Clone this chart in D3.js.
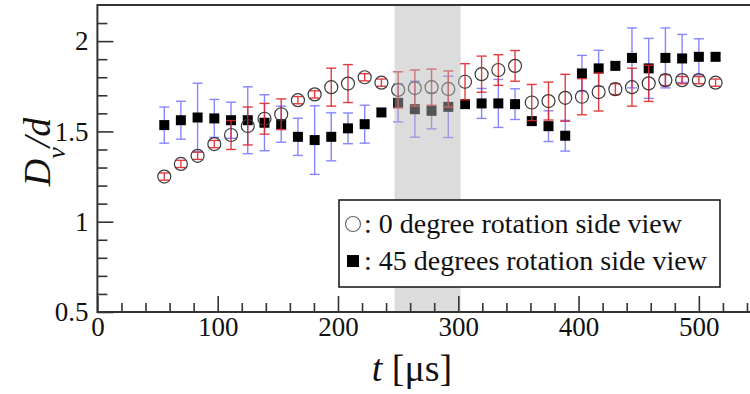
<!DOCTYPE html>
<html>
<head>
<meta charset="utf-8">
<script src="https://cdn.jsdelivr.net/npm/d3@7"></script>
<style>
  html, body { margin: 0; padding: 0; background: #fff; }
  svg text { font-family: "Liberation Serif", Tinos, "Times New Roman", Times, "DejaVu Serif", serif; }
</style>
</head>
<body>
<div id="chart"></div>
<script>
// time of each frame [us]
const tValues = [55.6, 69.4, 83.3, 97.2, 111.1, 125.0, 138.9, 152.8, 166.7, 180.6,
  194.4, 208.3, 222.2, 236.1, 250.0, 263.9, 277.8, 291.7, 305.6, 319.4,
  333.3, 347.2, 361.1, 375.0, 388.9, 402.8, 416.7, 430.6, 444.4, 458.3,
  472.2, 486.1, 500.0, 513.9];

// 0 degree rotation (open circles, red error bars)
const deg0Mean = [1.25, 1.32, 1.365, 1.43, 1.48, 1.53, 1.57, 1.595, 1.673, 1.705,
  1.745, 1.765, 1.80, 1.77, 1.73, 1.74, 1.745, 1.735, 1.775, 1.817,
  1.84, 1.863, 1.66, 1.668, 1.686, 1.692, 1.718, 1.734, 1.745, 1.766,
  1.784, 1.784, 1.784, 1.77];
const deg0Err = [0.02, 0.02, 0.02, 0.02, 0.08, 0.105, 0.085, 0.085, 0.02, 0.02,
  0.105, 0.105, 0.02, 0.02, 0.10, 0.10, 0.10, 0.10, 0.10, 0.10,
  0.085, 0.085, 0.10, 0.105, 0.13, 0.10, 0.105, 0.03, 0.105, 0.10,
  0.03, 0.02, 0.02, 0.02];

// 45 degrees rotation (filled squares, blue error bars)
const deg45Mean = [1.535, 1.562, 1.577, 1.572, 1.562, 1.562, 1.548, 1.54, 1.47, 1.452,
  1.47, 1.517, 1.54, 1.605, 1.658, 1.623, 1.614, 1.636, 1.651, 1.655,
  1.655, 1.651, 1.557, 1.529, 1.476, 1.821, 1.849, 1.863, 1.907, 1.849,
  1.907, 1.904, 1.913, 1.913];
const deg45Err = [0.10, 0.105, 0.19, 0.105, 0.10, 0.185, 0.155, 0.10, 0.103, 0.19,
  0.133, 0.085, 0.105, 0.02, 0.105, 0.155, 0.10, 0.17, 0.02, 0.083,
  0.133, 0.085, 0.02, 0.085, 0.085, 0.10, 0.10, 0.02, 0.166, 0.166,
  0.166, 0.133, 0.10, 0.02];

const xTicks = [0, 100, 200, 300, 400, 500];
const yTicks = [0.5, 1, 1.5, 2];
const yTickLabels = ["0.5", "1", "1.5", "2"];
const bandRange = [247, 302]; // shaded time window [us]
const legendLabels = [": 0 degree rotation side view", ": 45 degrees rotation side view"];

const W = 750, H = 394;
const FONT = '"Liberation Serif", Tinos, "Times New Roman", Times, "DejaVu Serif", serif';
const svg = d3.select("#chart").append("svg").attr("width", W).attr("height", H)
  .style("display", "block");

const x = d3.scaleLinear().domain([0, 550]).range([97.4, 759]);
const y = d3.scaleLinear().domain([0.5, 2.2]).range([312, 5]);

const pts0 = tValues.map((t, i) => ({ t, v: deg0Mean[i], e: deg0Err[i] }));
const pts45 = tValues.map((t, i) => ({ t, v: deg45Mean[i], e: deg45Err[i] }));

const cap = 5;
function errorBars(g, data, color, opacity) {
  const bars = g.selectAll("g").data(data).enter().append("g")
    .attr("stroke", color).attr("stroke-width", 1.4).attr("opacity", opacity);
  bars.append("line")
    .attr("x1", d => x(d.t)).attr("x2", d => x(d.t))
    .attr("y1", d => y(d.v - d.e)).attr("y2", d => y(d.v + d.e));
  bars.append("line")
    .attr("x1", d => x(d.t) - cap).attr("x2", d => x(d.t) + cap)
    .attr("y1", d => y(d.v + d.e)).attr("y2", d => y(d.v + d.e));
  bars.append("line")
    .attr("x1", d => x(d.t) - cap).attr("x2", d => x(d.t) + cap)
    .attr("y1", d => y(d.v - d.e)).attr("y2", d => y(d.v - d.e));
}

// blue bars + squares
errorBars(svg.append("g"), pts45, "#3d3dff", 0.62);
svg.append("g").selectAll("rect").data(pts45).enter().append("rect")
  .attr("x", d => x(d.t) - 5).attr("y", d => y(d.v) - 5)
  .attr("width", 10).attr("height", 10).attr("fill", "#000");

// red bars + circles
errorBars(svg.append("g"), pts0, "#e0282c", 0.9);
svg.append("g").selectAll("circle").data(pts0).enter().append("circle")
  .attr("cx", d => x(d.t)).attr("cy", d => y(d.v)).attr("r", 6.5)
  .attr("fill", "none").attr("stroke", "#3a3a3a").attr("stroke-width", 1.2);

// shaded window drawn over the marks
svg.append("rect")
  .attr("x", x(bandRange[0])).attr("y", y(2.2))
  .attr("width", x(bandRange[1]) - x(bandRange[0])).attr("height", y(0.5) - y(2.2))
  .attr("fill", "#b5b5b5").attr("opacity", 0.47);

// axes, ticks pointing inward
const axisColor = "#333";
const xMajor = d3.axisBottom(x).tickValues(xTicks).tickSize(-16).tickSizeOuter(0).tickPadding(5)
  .tickFormat(d3.format("d"));
const xMinor = d3.axisBottom(x).tickValues(d3.range(20, 560, 20).filter(v => v % 100 !== 0))
  .tickSize(-9).tickSizeOuter(0).tickFormat("");
const yMajor = d3.axisLeft(y).tickValues(yTicks).tickSize(-16).tickSizeOuter(0).tickPadding(9)
  .tickFormat((d, i) => yTickLabels[i]);
const yMinor = d3.axisLeft(y).tickValues(d3.range(0.6, 2.2, 0.1).filter(v => Math.abs(v * 2 - Math.round(v * 2)) > 1e-6))
  .tickSize(-10).tickSizeOuter(0).tickFormat("");

function styleAxis(g) {
  g.attr("font-family", null).attr("font-size", null);
  g.select(".domain").remove();
  g.selectAll("line").attr("stroke", axisColor).attr("stroke-width", 1.6);
  g.selectAll("text").attr("fill", "#111").attr("font-size", 27).attr("font-family", FONT);
}
svg.append("g").attr("transform", "translate(0,312)").call(xMinor).call(styleAxis);
svg.append("g").attr("transform", "translate(0,312)").call(xMajor).call(styleAxis);
svg.append("g").attr("transform", "translate(97.4,0)").call(yMinor).call(styleAxis);
svg.append("g").attr("transform", "translate(97.4,0)").call(yMajor).call(styleAxis);

// frame
svg.append("rect")
  .attr("x", x(0)).attr("y", y(2.2)).attr("width", x(550) - x(0)).attr("height", y(0.5) - y(2.2))
  .attr("fill", "none").attr("stroke", axisColor).attr("stroke-width", 2);

// axis titles
const xt = svg.append("text")
  .attr("x", 412).attr("y", 381).attr("text-anchor", "middle")
  .attr("font-size", 38).attr("font-family", FONT).attr("fill", "#111");
xt.append("tspan").attr("font-style", "italic").text("t");
xt.append("tspan").text(" [μs]");

const yt = svg.append("text")
  .attr("transform", "translate(50,152) rotate(-90)").attr("text-anchor", "middle")
  .attr("font-size", 38).attr("font-family", FONT).attr("fill", "#111").attr("font-style", "italic");
yt.append("tspan").text("D");
yt.append("tspan").attr("baseline-shift", "sub").attr("font-size", 26).text("v");
yt.append("tspan").text("/d");

// legend
const lg = svg.append("g");
lg.append("rect").attr("x", 339).attr("y", 200).attr("width", 381).attr("height", 87)
  .attr("fill", "#fff").attr("stroke", "#111").attr("stroke-width", 1.5);
lg.append("circle").attr("cx", 353).attr("cy", 224).attr("r", 7.5)
  .attr("fill", "none").attr("stroke", "#666").attr("stroke-width", 1.2);
lg.append("rect").attr("x", 347).attr("y", 255).attr("width", 12).attr("height", 12).attr("fill", "#000");
lg.selectAll("text").data(legendLabels).enter().append("text")
  .attr("x", 364).attr("y", (d, i) => 233 + i * 37)
  .attr("font-size", 28).attr("font-family", FONT).attr("fill", "#111")
  .text(d => d);
</script>
</body>
</html>
